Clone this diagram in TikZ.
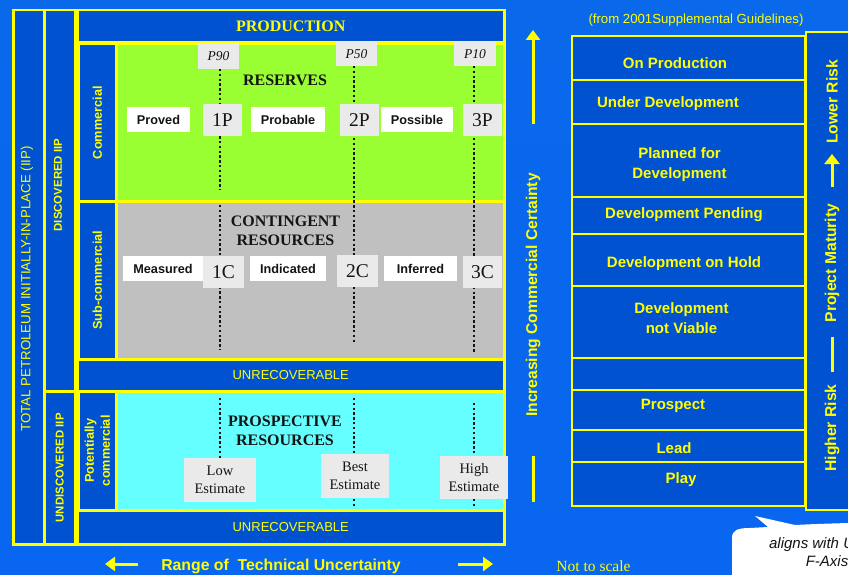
\documentclass[tikz,border=0pt]{standalone}
\usepackage{fontspec}
\setmainfont{Liberation Serif}
\setsansfont{Liberation Sans}
\usetikzlibrary{arrows.meta}

\definecolor{bgtop}{RGB}{10,104,235}
\definecolor{bgmid}{RGB}{0,78,200}
\definecolor{bgbot}{RGB}{8,102,240}
\definecolor{boxblue}{RGB}{0,82,208}
\definecolor{resgreen}{RGB}{153,255,51}
\definecolor{congray}{RGB}{192,192,192}
\definecolor{procyan}{RGB}{102,255,255}
\definecolor{tagfill}{RGB}{234,234,234}
\definecolor{ylw}{RGB}{255,255,0}
\definecolor{ink}{RGB}{20,20,20}

\newcommand\fsz[2]{\fontsize{#1}{#2}\selectfont}

\begin{document}
\begin{tikzpicture}[x=1pt,y=-1pt,>={Triangle[length=10pt,width=14pt]},
  panel/.style={draw=ylw,line width=2.5pt,fill=boxblue,anchor=north west,inner sep=0pt},
  zone/.style={draw=ylw,line width=2.5pt,anchor=north west,inner sep=0pt},
  side/.style={text=ylw,font=\sffamily\bfseries\fsz{12.7}{16},rotate=90,align=center},
  tag/.style={fill=white,text=ink,font=\sffamily\bfseries\fsz{12.7}{14},inner sep=0pt,minimum height=25pt},
  num/.style={fill=tagfill,text=ink,font=\fsz{19.5}{20},inner sep=0pt,minimum height=32pt},
  prob/.style={fill=tagfill,text=ink,font=\itshape\fsz{13.5}{14},inner sep=0pt,minimum width=41pt,minimum height=25pt},
  est/.style={fill=tagfill,text=ink,font=\fsz{14.5}{17.5},align=center,inner sep=0pt},
  head/.style={text=ink,font=\bfseries\fsz{16}{19.5},align=center},
  stage/.style={text=ylw,font=\sffamily\bfseries\fsz{15}{20},align=center},
  dotln/.style={ink,line width=2.4pt,dash pattern=on 2.4pt off 2.4pt},
  bar/.style={draw=ylw,line width=3pt}]

\useasboundingbox (0,0) rectangle (848,575);
\clip (0,0) rectangle (848,575);
\shade[top color=bgtop,middle color=bgmid,bottom color=bgbot] (0,0) rectangle (848,575);

% resource classes
\node[panel,minimum width=31pt,minimum height=534pt] (total) at (12,9) {};
\node[panel,minimum width=31pt,minimum height=381pt] (disc) at (43,9) {};
\node[panel,minimum width=31pt,minimum height=153pt] (undisc) at (43,390) {};
\node[panel,minimum width=427pt,minimum height=32pt,text=ylw,font=\bfseries\fsz{16}{19}] (prod) at (76,9) {PRODUCTION};
\node[panel,minimum width=38pt,minimum height=157pt] (comm) at (77,43) {};
\node[zone,fill=resgreen,minimum width=388pt,minimum height=157pt] (res) at (115,43) {};
\node[panel,minimum width=38pt,minimum height=158pt] (subc) at (77,200) {};
\node[zone,fill=congray,minimum width=388pt,minimum height=158pt] (con) at (115,200) {};
\node[panel,minimum width=427pt,minimum height=32pt,text=ylw,font=\sffamily\fsz{13}{15}] (unrecA) at (76,358) {UNRECOVERABLE};
\node[panel,minimum width=38pt,minimum height=119pt] (potc) at (77,390) {};
\node[zone,fill=procyan,minimum width=388pt,minimum height=119pt] (pro) at (115,390) {};
\node[panel,minimum width=427pt,minimum height=34pt,text=ylw,font=\sffamily\fsz{13}{15}] (unrecB) at (76,509) {UNRECOVERABLE};

\node[side,font=\sffamily\fsz{13.3}{15}] (totlbl) at (27,289) {TOTAL PETROLEUM INITIALLY-IN-PLACE (IIP)};
\node[side,font=\sffamily\bfseries\fsz{11.4}{13}] (disclbl) at (58,185) {DISCOVERED IIP};
\node[side,font=\sffamily\bfseries\fsz{11.4}{13}] (undisclbl) at (undisc) {UNDISCOVERED IIP};
\node[side] (commlbl) at (comm) {Commercial};
\node[side] (subclbl) at (subc) {Sub-commercial};
\node[side] (potclbl) at (potc) {Potentially\\commercial};

\draw[dotln] (220,69) -- (220,190) (220,205) -- (220,350) (220,398) -- (220,502);
\draw[dotln] (354,66) -- (354,343) (354,398) -- (354,508);
\draw[dotln] (474,66) -- (474,352) (474,403) -- (474,508);

\node[prob,minimum height=26pt] (p90) at (218.5,56) {P90};
\node[prob] (p50) at (356.5,54) {P50};
\node[prob,minimum width=42pt] (p10) at (475,54) {P10};

\node[head] (reserves) at (285,80) {RESERVES};
\node[tag,minimum width=63pt] (proved) at (158.5,119.5) {Proved};
\node[num,minimum width=39pt] (onep) at (222.5,120) {1P};
\node[tag,minimum width=74pt] (probable) at (288,119.5) {Probable};
\node[num,minimum width=39pt] (twop) at (359.5,120) {2P};
\node[tag,minimum width=72pt] (possible) at (417,119.5) {Possible};
\node[num,minimum width=39pt] (threep) at (482.5,120) {3P};

\node[head] (contingent) at (285.5,231) {CONTINGENT\\RESOURCES};
\node[tag,minimum width=80pt] (measured) at (163,268.5) {Measured};
\node[num,minimum width=41pt] (onec) at (223.5,272) {1C};
\node[tag,minimum width=76pt] (indicated) at (288,268.5) {Indicated};
\node[num,minimum width=41pt] (twoc) at (357.5,271) {2C};
\node[tag,minimum width=73pt] (inferred) at (420.5,268.5) {Inferred};
\node[num,minimum width=39pt] (threec) at (482.5,272) {3C};

\node[head] (prospective) at (285,431) {PROSPECTIVE\\RESOURCES};
\node[est,minimum width=72pt,minimum height=44pt] (lowest) at (220,480) {Low\\Estimate};
\node[est,minimum width=68pt,minimum height=44pt] (bestest) at (355,476) {Best\\Estimate};
\node[est,minimum width=68pt,minimum height=43pt] (highest) at (474,477.5) {High\\Estimate};

% axes
\draw[bar,->] (533,124) -- (533,30);
\node[side,font=\sffamily\bfseries\fsz{15.6}{18}] (certainty) at (533,295) {Increasing Commercial Certainty};
\draw[bar] (533,456) -- (533,502);

\draw[bar,->] (138,564) -- (105,564);
\node[text=ylw,font=\sffamily\bfseries\fsz{15.8}{18}] (range) at (281,566) {Range of~ Technical Uncertainty};
\draw[bar,->] (458,564) -- (493,564);
\node[text=ylw,font=\fsz{15.5}{18}] (scale) at (593.5,566) {Not to scale};

% project maturity
\node[text=ylw,font=\sffamily\fsz{13.2}{15}] (source) at (696,20) {(from 2001Supplemental Guidelines)};
\foreach \ya/\yb in {36/80,80/124,124/197,197/234,234/286,286/358,358/390,390/430,430/462,462/506}
  \draw[draw=ylw,line width=1.6pt,fill=boxblue] (572,\ya) rectangle (805,\yb);

\node[stage] (onprod) at (675,63) {On Production};
\node[stage] (underdev) at (668,104) {Under Development};
\node[stage] (planned) at (679.5,165) {Planned for\\Development};
\node[stage] (pending) at (684,215) {Development Pending};
\node[stage] (hold) at (684,264) {Development on Hold};
\node[stage] (notviable) at (681.5,318.5) {Development\\not Viable};
\node[stage] (prospect) at (673,406) {Prospect};
\node[stage] (lead) at (674,448) {Lead};
\node[stage] (play) at (681,480) {Play};

\draw[draw=ylw,line width=1.6pt,fill=boxblue] (806,32) rectangle (880,510);
\node[side,font=\sffamily\bfseries\fsz{15.7}{18}] (lowrisk) at (832,102) {Lower Risk};
\draw[bar,->,>={Triangle[length=10pt,width=15pt]}] (832,187) -- (832,154);
\node[side,font=\sffamily\bfseries\fsz{15.7}{18}] (maturity) at (832,263) {Project Maturity};
\draw[bar] (832,337) -- (832,372);
\node[side,font=\sffamily\bfseries\fsz{15.7}{18}] (highrisk) at (832,428) {Higher Risk};

% callout
\fill[white] (732,580) -- (732,538) .. controls (732,530) and (738,528) .. (750,528)
  -- (768,527) -- (755,516) -- (795,525) .. controls (815,524) .. (880,522) -- (880,580) -- cycle;
\node[text=ink,font=\sffamily\itshape\fsz{15}{18},align=center] (note) at (827,552) {aligns with UNFC\\F-Axis};

\end{tikzpicture}
\end{document}
